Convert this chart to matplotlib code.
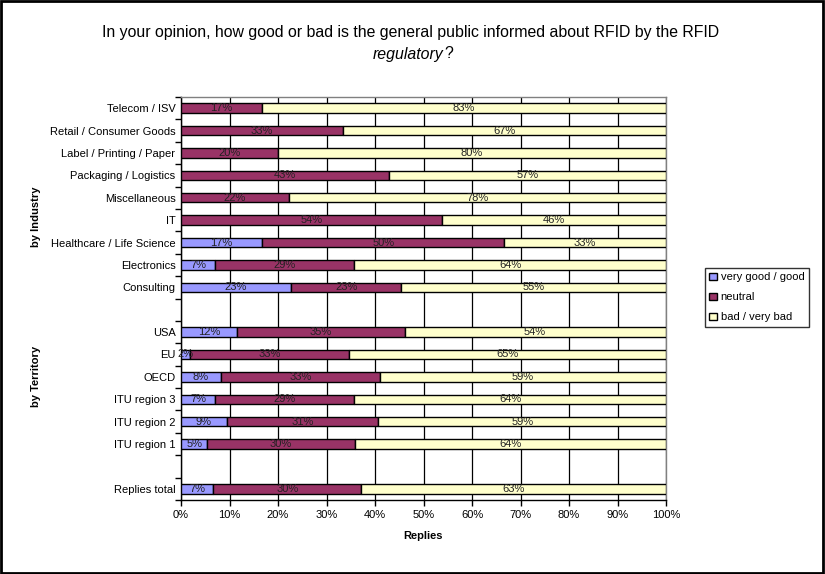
import matplotlib
matplotlib.use("Agg")
import matplotlib.pyplot as plt
import numpy as np
from matplotlib.patches import Rectangle

plt.rcParams['font.family'] = ['Liberation Sans', 'DejaVu Sans']

categories = [
    "Telecom / ISV", "Retail / Consumer Goods", "Label / Printing / Paper",
    "Packaging / Logistics", "Miscellaneous", "IT", "Healthcare / Life Science",
    "Electronics", "Consulting", "",
    "USA", "EU", "OECD", "ITU region 3", "ITU region 2", "ITU region 1", "",
    "Replies total",
]
good = [0, 0, 0, 0, 0, 0, 16.7, 7.1, 22.7, np.nan,
        11.5, 1.9, 8.2, 7.1, 9.4, 5.4, np.nan, 6.7]
neutral = [16.7, 33.3, 20.0, 42.9, 22.2, 53.8, 50.0, 28.6, 22.7, np.nan,
           34.6, 32.7, 32.8, 28.6, 31.3, 30.4, np.nan, 30.4]
bad = [83.3, 66.7, 80.0, 57.1, 77.8, 46.2, 33.3, 64.3, 54.6, np.nan,
       53.8, 65.4, 59.0, 64.3, 59.4, 64.3, np.nan, 62.9]
series_names = ["very good / good", "neutral", "bad / very bad"]
colors = ["#9999FF", "#993366", "#FFFFCC"]
group_labels = ["by Industry", "by Territory"]

fig = plt.figure(figsize=(8.25, 5.74), dpi=100)
ax = fig.add_axes([181/825, 1-500/574, (666-181)/825, (500-97)/574])

y = np.arange(len(categories))
left = np.zeros(len(categories))
handles = []
for vals, name, col in zip([good, neutral, bad], series_names, colors):
    v = np.array(vals, dtype=float)
    mask = ~np.isnan(v) & (v > 0)
    ax.barh(y[mask], v[mask], left=left[mask], height=0.42,
            color=col, edgecolor="black", linewidth=1.0, zorder=3)
    for yi, li, vi in zip(y[mask], left[mask], v[mask]):
        ax.text(li + vi/2, yi, f"{int(vi + 0.5)}%", ha="center", va="center",
                fontsize=8, color="#222222", zorder=4)
    left = left + np.nan_to_num(v)
    handles.append(Rectangle((0, 0), 1, 1, facecolor=col, edgecolor="black", linewidth=1.0))

ax.set_xlim(0, 100)
ax.set_ylim(len(categories) - 0.5, -0.5)
ax.set_xticks(np.arange(0, 101, 10))
ax.set_xticklabels([f"{t}%" for t in range(0, 101, 10)], fontsize=8)
ax.set_yticks(y)
ax.set_yticklabels(categories, fontsize=8)
ax.tick_params(axis="y", which="major", length=0, pad=4)
ax.set_yticks(np.arange(-0.5, len(categories), 1), minor=True)
ax.tick_params(axis="y", which="minor", length=4, width=1, color="black", direction="out")
ax.tick_params(axis="x", length=4, width=1, color="black", direction="out", pad=3)
ax.xaxis.grid(True, color="black", linewidth=0.9, zorder=0)
ax.set_axisbelow(True)
for s in ["top", "right"]:
    ax.spines[s].set_color("#808080")
    ax.spines[s].set_linewidth(1.0)
for s in ["left", "bottom"]:
    ax.spines[s].set_color("black")
    ax.spines[s].set_linewidth(1.0)

ax.set_xlabel("Replies", fontsize=8, fontweight="bold", labelpad=8)

fig.text(36/825, 1-217/574, group_labels[0], rotation=90, fontsize=8,
         fontweight="bold", ha="center", va="center")
fig.text(36/825, 1-376/574, group_labels[1], rotation=90, fontsize=8,
         fontweight="bold", ha="center", va="center")

fig.text(411/825, 1-33/574,
         "In your opinion, how good or bad is the general public informed about RFID by the RFID",
         fontsize=11.4, ha="center", va="center")
fig.text(443/825, 1-54/574, "regulatory", fontsize=11.4, style="italic",
         ha="right", va="center")
fig.text(444/825, 1-54/574, "?", fontsize=11.4, ha="left", va="center")

leg = fig.legend(handles, series_names, loc="upper left",
                 bbox_to_anchor=(705/825, 1-268/574), fontsize=8,
                 frameon=True, fancybox=False, edgecolor="black",
                 handlelength=0.7, handleheight=0.7, handletextpad=0.3,
                 labelspacing=0.9, borderpad=0.4, borderaxespad=0)
leg.get_frame().set_linewidth(1.0)

fig.patches.append(Rectangle((0.001, 0.001), 0.997, 0.997, transform=fig.transFigure,
                             fill=False, edgecolor="black", linewidth=2))

fig.savefig("out.png", dpi=100)
